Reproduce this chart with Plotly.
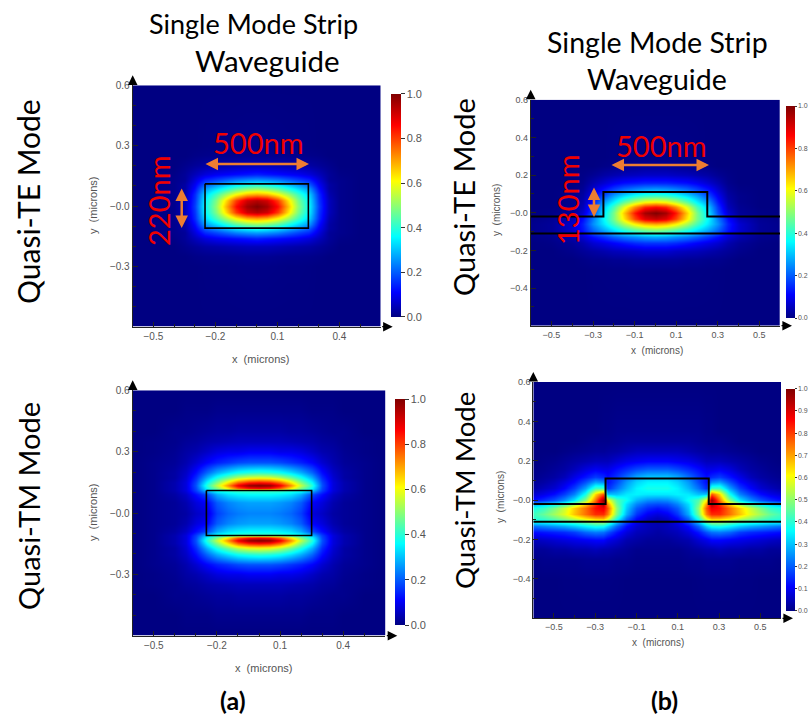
import plotly.graph_objects as go

W, H = 808, 715

# ---- colour scale and shared grids -------------------------------------
JET = [[0, "rgb(0,0,130)"], [0.11, "rgb(0,0,255)"], [0.36, "rgb(0,255,255)"],
       [0.61, "rgb(255,255,0)"], [0.86, "rgb(255,0,0)"], [1, "rgb(128,0,0)"]]

X_COMMON = [0, .05, .1, .15, .2, .25, .3, .35, .4, .5, .6]

# (a) TE: quarter of the symmetric field, y >= 0
A_TE_Y = [0, .03, .06, .09, .11, .13, .16, .2, .25, .3, .6]
A_TE_Z = [
    [1.00, .96, .85, .68, .50, .36, .17, .05, .01, 0, 0],
    [.94, .91, .80, .64, .48, .35, .16, .05, .01, 0, 0],
    [.70, .68, .61, .52, .42, .32, .15, .04, .01, 0, 0],
    [.50, .48, .44, .38, .32, .26, .12, .03, .01, 0, 0],
    [.38, .36, .33, .29, .25, .20, .10, .03, .01, 0, 0],
    [.27, .26, .24, .21, .18, .15, .08, .02, .01, 0, 0],
    [.14, .13, .12, .11, .10, .08, .05, .02, .005, 0, 0],
    [.05, .05, .045, .04, .035, .03, .02, .01, 0, 0, 0],
    [.015, .015, .012, .01, .01, .008, .005, 0, 0, 0, 0],
    [.005, .005, .004, .003, .003, .002, 0, 0, 0, 0, 0],
    [0, 0, 0, 0, 0, 0, 0, 0, 0, 0, 0],
]

# (a) TM: quarter of the symmetric field, y >= 0
A_TM_Y = [0, .05, .09, .11, .12, .135, .15, .175, .2, .25, .3, .35, .4, .5, .6]
A_TM_Z = [
    [.24, .24, .23, .21, .17, .08, .06, .03, .02, .01, 0],
    [.27, .27, .26, .24, .20, .11, .08, .04, .02, .01, 0],
    [.36, .36, .35, .33, .28, .18, .12, .06, .03, .01, 0],
    [.42, .42, .42, .40, .38, .30, .17, .08, .04, .01, 0],
    [.85, .83, .76, .62, .48, .36, .18, .08, .04, .01, 0],
    [1.0, .98, .88, .72, .55, .40, .19, .08, .04, .01, 0],
    [.85, .83, .76, .63, .49, .36, .18, .08, .04, .01, 0],
    [.58, .57, .53, .46, .38, .28, .15, .07, .03, .01, 0],
    [.40, .39, .37, .33, .28, .21, .12, .06, .03, .01, 0],
    [.19, .19, .18, .16, .14, .11, .07, .04, .02, .01, 0],
    [.10, .10, .09, .09, .08, .06, .04, .03, .015, .005, 0],
    [.05, .05, .05, .045, .04, .035, .025, .02, .01, .005, 0],
    [.03, .03, .03, .025, .025, .02, .015, .01, .01, 0, 0],
    [.01, .01, .01, .01, .01, .005, .005, .005, 0, 0, 0],
    [0, 0, 0, 0, 0, 0, 0, 0, 0, 0, 0],
]

# (b) TE: right half of the field, top row first
B_TE_Y = [.6, .3, .25, .2, .16, .12, .09, .06, .03, 0, -.03, -.06, -.09, -.11,
          -.13, -.16, -.2, -.25, -.3, -.6]
B_TE_Z = [
    [0, 0, 0, 0, 0, 0, 0, 0, 0, 0, 0],
    [.005, .005, .005, .004, .003, 0, 0, 0, 0, 0, 0],
    [.02, .02, .015, .012, .01, .005, 0, 0, 0, 0, 0],
    [.06, .06, .055, .05, .04, .03, .015, .005, 0, 0, 0],
    [.14, .14, .13, .12, .10, .07, .04, .01, 0, 0, 0],
    [.28, .27, .25, .22, .18, .13, .07, .02, .005, 0, 0],
    [.42, .41, .38, .33, .27, .19, .10, .03, .01, 0, 0],
    [.62, .60, .54, .45, .35, .26, .13, .04, .01, 0, 0],
    [.85, .82, .72, .58, .43, .31, .16, .05, .015, 0, 0],
    [1.0, .96, .84, .66, .48, .34, .18, .07, .02, .005, 0],
    [.92, .89, .79, .63, .48, .36, .23, .12, .05, .015, .005],
    [.70, .68, .62, .53, .43, .34, .25, .14, .07, .02, .01],
    [.50, .48, .45, .40, .34, .28, .21, .13, .07, .02, .01],
    [.38, .37, .34, .31, .27, .22, .17, .10, .05, .02, .01],
    [.28, .27, .25, .23, .20, .16, .12, .07, .04, .01, .005],
    [.16, .16, .15, .13, .11, .09, .07, .04, .02, .005, 0],
    [.07, .07, .06, .055, .05, .04, .03, .02, .01, 0, 0],
    [.02, .02, .02, .015, .015, .01, .01, .005, 0, 0, 0],
    [.005, .005, .005, .004, .004, .003, .002, 0, 0, 0, 0],
    [0, 0, 0, 0, 0, 0, 0, 0, 0, 0, 0],
]

# (b) TM: right half of the field, top row first
B_TM_X = [0, .05, .1, .15, .2, .24, .26, .3, .35, .4, .45, .5, .55, .6]
B_TM_Y = [.6, .35, .3, .25, .2, .16, .12, .09, .06, .03, 0, -.02, -.04, -.07,
          -.09, -.11, -.13, -.16, -.2, -.25, -.3, -.4, -.6]
B_TM_Z = [
    [0, 0, 0, 0, 0, 0, 0, 0, 0, 0, 0, 0, 0, 0],
    [.01, .01, .01, .01, .01, .005, .005, 0, 0, 0, 0, 0, 0, 0],
    [.02, .02, .02, .02, .015, .01, .01, .01, .005, 0, 0, 0, 0, 0],
    [.05, .05, .05, .04, .03, .025, .02, .02, .015, .01, .005, 0, 0, 0],
    [.11, .11, .10, .09, .07, .05, .05, .05, .04, .03, .02, .01, .005, 0],
    [.20, .20, .18, .15, .12, .09, .09, .10, .08, .05, .03, .02, .01, .005],
    [.31, .31, .28, .22, .16, .12, .15, .17, .13, .09, .05, .03, .02, .01],
    [.35, .35, .32, .26, .18, .12, .25, .27, .19, .12, .08, .05, .03, .02],
    [.38, .38, .35, .29, .22, .15, .42, .42, .27, .17, .11, .07, .05, .03],
    [.34, .34, .35, .34, .30, .30, .78, .65, .38, .24, .17, .12, .09, .07],
    [.24, .25, .29, .37, .44, .62, .98, .75, .50, .34, .25, .19, .15, .12],
    [.18, .19, .24, .33, .47, .72, .95, .82, .66, .52, .42, .35, .31, .28],
    [.13, .15, .20, .31, .50, .78, .88, .85, .75, .66, .56, .48, .41, .38],
    [.08, .10, .16, .28, .48, .74, .82, .82, .75, .67, .58, .52, .46, .42],
    [.05, .07, .12, .22, .40, .62, .70, .69, .64, .57, .51, .46, .42, .40],
    [.04, .05, .09, .17, .30, .45, .50, .50, .46, .42, .40, .38, .36, .35],
    [.04, .05, .07, .12, .21, .32, .37, .38, .35, .31, .28, .26, .24, .22],
    [.03, .04, .05, .08, .13, .19, .22, .23, .21, .17, .15, .14, .13, .12],
    [.02, .02, .03, .04, .07, .09, .11, .11, .10, .09, .08, .07, .06, .05],
    [.01, .01, .01, .02, .03, .04, .04, .05, .04, .04, .03, .03, .02, .02],
    [.005, .005, .005, .01, .01, .015, .015, .015, .015, .01, .01, .01, .01, .005],
    [0, 0, 0, 0, .002, .003, .003, .003, .003, .002, .002, 0, 0, 0],
    [0, 0, 0, 0, 0, 0, 0, 0, 0, 0, 0, 0, 0, 0],
]

# ---- waveguide outlines -------------------------------------------------
STRIP_X = [-.25, .25, .25, -.25, -.25]
STRIP_Y = [.11, .11, -.11, -.11, .11]
RIB_X = [-.6, -.25, -.25, .25, .25, .6]
RIB_Y = [-.02, -.02, .11, .11, -.02, -.02]
BASE_X = [-.6, .6]
BASE_Y = [-.11, -.11]

# ---- ticks --------------------------------------------------------------
A_XTICKS = [-.5, -.2, .1, .4]
A_XLABELS = ["−0.5", "−0.2", "0.1", "0.4"]
A_YTICKS = [.6, .3, 0, -.3]
A_YLABELS = ["0.6", "0.3", "−0.0", "−0.3"]
B_XTICKS = [-.5, -.3, -.1, .1, .3, .5]
B_XLABELS = ["−0.5", "−0.3", "−0.1", "0.1", "0.3", "0.5"]
B_YTICKS = [.6, .4, .2, 0, -.2, -.4]
B_YLABELS = ["0.6", "0.4", "0.2", "−0.0", "−0.2", "−0.4"]
CB_COARSE = [0, .2, .4, .6, .8, 1]
CB_FINE = [0, .1, .2, .3, .4, .5, .6, .7, .8, .9, 1]


def mirror_x(xs, rows):
    return [-v for v in xs[:0:-1]] + xs, [r[:0:-1] + r for r in rows]


def mirror_xy(xs, ys, rows):
    x2, half = mirror_x(xs, rows)
    return x2, [-v for v in ys[:0:-1]] + ys, half[:0:-1] + half


def px(x):
    return x / W


def py(y):
    return 1 - y / H


x1, y1, z1 = mirror_xy(X_COMMON, A_TE_Y, A_TE_Z)
x2, z2 = mirror_x(X_COMMON, B_TE_Z)
x3, y3, z3 = mirror_xy(X_COMMON, A_TM_Y, A_TM_Z)
x4, z4 = mirror_x(B_TM_X, B_TM_Z)

# id, x, y, z, plot box (l, r, t, b), colorbar (l, t, b, thick, ticklen, font), ticks, x-title, y-title, font
PANELS = [
    ("", x1, y1, z1, (132.7, 380.7, 85.3, 326.7), (390.7, 94, 316.7, 10, 4, 11), CB_COARSE,
     A_XTICKS, A_XLABELS, A_YTICKS, A_YLABELS, (260, 359), (93, 206), 10, False),
    ("2", x2, B_TE_Y[::-1], z2[::-1], (530.7, 780, 99.7, 325.7), (785.5, 106, 318, 9, 2, 7), CB_COARSE,
     B_XTICKS, B_XLABELS, B_YTICKS, B_YLABELS, (657, 350), (496, 210), 9, True),
    ("3", x3, y3, z3, (132.7, 385.3, 390.3, 635.7), (395, 399, 625, 10, 4, 11), CB_COARSE,
     A_XTICKS, A_XLABELS, A_YTICKS, A_YLABELS, (263, 668), (93, 513), 10, False),
    ("4", x4, B_TM_Y[::-1], z4[::-1], (533.3, 781, 382, 618.3), (786, 388.7, 610.7, 8.5, 2, 7), CB_FINE,
     B_XTICKS, B_XLABELS, B_YTICKS, B_YLABELS, (658, 642), (500, 497), 9, True),
]

TICK_FONT = "#555555"
fig = go.Figure()
layout = dict(width=W, height=H, margin=dict(l=0, r=0, t=0, b=0, autoexpand=False), autosize=False,
              paper_bgcolor="white", plot_bgcolor="white", showlegend=False,
              font=dict(family="Liberation Sans", color=TICK_FONT))
annotations = []


def note(text, x, y, size, color="black", family="Lato", angle=0, bold=False):
    annotations.append(dict(
        text=f"<b>{text}</b>" if bold else text, xref="paper", yref="paper",
        x=px(x), y=py(y), xanchor="center", yanchor="middle", showarrow=False,
        textangle=angle, font=dict(size=size, color=color, family=family)))


def arrow(x0, y0, x1_, y1_, color, width, head=2, size=1.0, both=False):
    annotations.append(dict(
        text="", xref="paper", yref="paper", axref="pixel", ayref="pixel",
        x=px(x1_), y=py(y1_), ax=x0 - x1_, ay=y0 - y1_, showarrow=True,
        arrowhead=head, arrowsize=size, arrowwidth=width, arrowcolor=color,
        arrowside="end+start" if both else "end", startarrowhead=head,
        startarrowsize=size, standoff=0, startstandoff=0))


for (sid, xs, ys, zs, box, cb, cbt, xt, xl, yt, yl, xtitle, ytitle, fs, rib) in PANELS:
    l, r, t, b = box
    cl, ct, cb_b, thick, cbtl, cbfs = cb
    xa, ya = f"x{sid}", f"y{sid}"
    fig.add_trace(go.Heatmap(
        x=xs, y=ys, z=zs, zmin=0, zmax=1, colorscale=JET, zsmooth="best",
        xaxis=xa, yaxis=ya, hoverinfo="skip",
        colorbar=dict(x=px(cl), xanchor="left", xpad=0, ypad=0, thickness=thick,
                      thicknessmode="pixels", lenmode="fraction",
                      len=(cb_b - ct) / H, y=py((ct + cb_b) / 2), yanchor="middle",
                      outlinewidth=0, tickmode="array", tickvals=cbt,
                      ticktext=[f"{v:.1f}" for v in cbt], ticks="outside", ticklen=cbtl,
                      tickcolor="#333333", tickfont=dict(size=cbfs, color=TICK_FONT))))
    if rib:
        fig.add_trace(go.Scatter(x=RIB_X, y=RIB_Y, mode="lines", xaxis=xa, yaxis=ya,
                                 line=dict(color="black", width=2), hoverinfo="skip"))
        fig.add_trace(go.Scatter(x=BASE_X, y=BASE_Y, mode="lines", xaxis=xa, yaxis=ya,
                                 line=dict(color="black", width=2), hoverinfo="skip"))
    else:
        fig.add_trace(go.Scatter(x=STRIP_X, y=STRIP_Y, mode="lines", xaxis=xa, yaxis=ya,
                                 line=dict(color="black", width=1.6), hoverinfo="skip"))
    minor = dict(tickmode="linear", tick0=0, dtick=.1, ticks="inside", ticklen=3,
                 tickcolor="#222222")
    key = xa.replace("x", "xaxis")
    layout[key] = dict(domain=[px(l), px(r)], range=[-.6, .6], anchor=ya,
                       tickmode="array", tickvals=xt, ticktext=xl, ticks="inside",
                       ticklen=5, tickcolor="#222222", showgrid=False, zeroline=False,
                       showline=True, linecolor="#222222", linewidth=1, minor=minor,
                       tickfont=dict(size=fs, color=TICK_FONT))
    key = ya.replace("y", "yaxis")
    layout[key] = dict(domain=[py(b), py(t)], range=[-.6, .6], anchor=xa,
                       tickmode="array", tickvals=yt, ticktext=yl, ticks="inside",
                       ticklen=5, tickcolor="#222222", showgrid=False, zeroline=False,
                       showline=True, linecolor="#222222", linewidth=1, minor=minor,
                       tickfont=dict(size=fs, color=TICK_FONT))
    note("x  (microns)", xtitle[0], xtitle[1], fs + 1, TICK_FONT, "Liberation Sans")
    note("y  (microns)", ytitle[0], ytitle[1], fs + 1, TICK_FONT, "Liberation Sans", angle=-90)
    arrow(l, t, l, t - 10, "black", 1.2, head=2, size=1.6)
    arrow(r, b, r + 12, b, "black", 1.2, head=2, size=1.6)

# ---- slide text ---------------------------------------------------------
note("Single Mode Strip", 253, 24, 27)
note("Waveguide", 267, 60, 29.5)
note("Single Mode Strip", 657, 42, 28.5)
note("Waveguide", 657, 79, 28.5)
note("Quasi-TE Mode", 28, 202, 30, angle=-90)
note("Quasi-TM Mode", 28, 506, 29, angle=-90)
note("Quasi-TE Mode", 464, 197, 29, angle=-90)
note("Quasi-TM Mode", 464, 490, 27.5, angle=-90)
note("(a)", 233, 700, 25, bold=True)
note("(b)", 664, 700, 25, bold=True)
note("500nm", 258, 142, 29, "#F00000")
note("220nm", 158, 201, 29, "#F00000", angle=-90)
note("500nm", 661, 145, 29, "#F00000")
note("130nm", 567, 200, 29, "#F00000", angle=-90)

ORANGE = "#ED7D31"
arrow(204, 164, 309, 164, ORANGE, 2.5, both=True)
arrow(181.7, 187, 181.7, 228, ORANGE, 2.5, both=True)
arrow(610, 165, 709, 165, ORANGE, 2.5, both=True)
arrow(594, 186, 594, 217, ORANGE, 2.5, both=True)

layout["annotations"] = annotations
fig.update_layout(**layout)
fig.write_html("out.html", config={"displayModeBar": False},
               post_script="document.body.style.margin='0';")
